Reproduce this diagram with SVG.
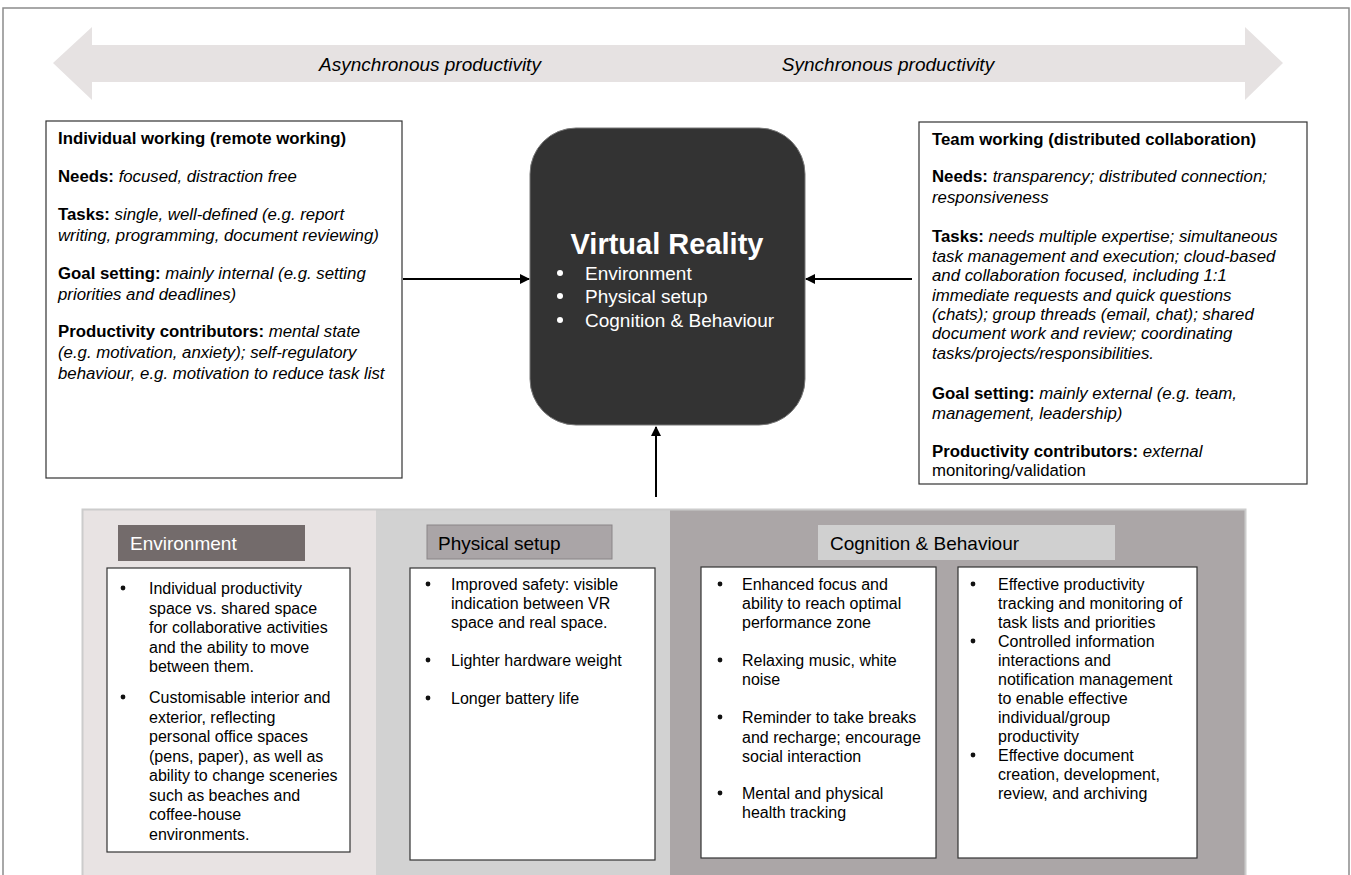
<svg xmlns="http://www.w3.org/2000/svg" width="1351" height="875" viewBox="0 0 1351 875">
  <defs>
    <marker id="arrowhead" viewBox="0 0 10 10" refX="9" refY="5" markerWidth="5" markerHeight="5" orient="auto-start-reverse" markerUnits="strokeWidth">
      <path d="M0,0 L10,5 L0,10 Z" fill="#000"/>
    </marker>
    <style>
      text { font-family: "Liberation Sans", Arial, sans-serif; fill: #000; }
      .body { font-size: 16.8px; }
      .b { font-weight: bold; }
      .i { font-style: italic; }
      .small { font-size: 16px; }
      .hdr { font-size: 19px; }
      .card { fill: #fff; stroke: #333; stroke-width: 1.2; }
      .conn { stroke: #000; stroke-width: 2; fill: none; marker-end: url(#arrowhead); }
    </style>
  </defs>

  <rect x="0" y="0" width="1351" height="875" fill="#fff"/>
  <!-- outer frame -->
  <path d="M3,875 L3,8 L1349,8 L1349,875" fill="none" stroke="#8c8c8c" stroke-width="1.5"/>

  <!-- productivity spectrum double arrow -->
  <g id="spectrum">
    <polygon points="53,63 92,27 92,45 1245,45 1245,27 1283,63 1245,100 1245,82 92,82 92,100" fill="#e6e2e2"/>
    <text x="430" y="71" text-anchor="middle" class="i" font-size="19">Asynchronous productivity</text>
    <text x="888" y="71" text-anchor="middle" class="i" font-size="19">Synchronous productivity</text>
  </g>

  <!-- individual working -->
  <g id="individual">
    <rect x="46" y="121" width="356" height="357" class="card"/>
    <text class="body">
      <tspan x="58" y="144" class="b">Individual working (remote working)</tspan>
      <tspan x="58" y="182"><tspan class="b">Needs: </tspan><tspan class="i">focused, distraction free</tspan></tspan>
      <tspan x="58" y="220"><tspan class="b">Tasks: </tspan><tspan class="i">single, well-defined (e.g. report</tspan></tspan>
      <tspan x="58" y="241" class="i">writing, programming, document reviewing)</tspan>
      <tspan x="58" y="279"><tspan class="b">Goal setting: </tspan><tspan class="i">mainly internal (e.g. setting</tspan></tspan>
      <tspan x="58" y="300" class="i">priorities and deadlines)</tspan>
      <tspan x="58" y="337"><tspan class="b">Productivity contributors: </tspan><tspan class="i">mental state</tspan></tspan>
      <tspan x="58" y="358" class="i">(e.g. motivation, anxiety); self-regulatory</tspan>
      <tspan x="58" y="379" class="i">behaviour, e.g. motivation to reduce task list</tspan>
    </text>
  </g>

  <!-- central VR node -->
  <g id="virtual-reality">
    <rect x="530" y="128" width="275" height="297" rx="46" ry="46" fill="#333" stroke="#777" stroke-width="1"/>
    <text x="667" y="254" text-anchor="middle" font-weight="bold" font-size="29" style="fill:#fff">Virtual Reality</text>
    <circle cx="560" cy="273" r="3" fill="#fff"/>
    <circle cx="560" cy="296" r="3" fill="#fff"/>
    <circle cx="560" cy="320" r="3" fill="#fff"/>
    <text font-size="19" style="fill:#fff">
      <tspan x="585" y="280">Environment</tspan>
      <tspan x="585" y="303">Physical setup</tspan>
      <tspan x="585" y="327">Cognition &amp; Behaviour</tspan>
    </text>
  </g>

  <!-- team working -->
  <g id="team">
    <rect x="919" y="122" width="388" height="362" class="card"/>
    <text class="body">
      <tspan x="932" y="145" class="b">Team working (distributed collaboration)</tspan>
      <tspan x="932" y="182"><tspan class="b">Needs: </tspan><tspan class="i">transparency; distributed connection;</tspan></tspan>
      <tspan x="932" y="203" class="i">responsiveness</tspan>
      <tspan x="932" y="242"><tspan class="b">Tasks: </tspan><tspan class="i">needs multiple expertise; simultaneous</tspan></tspan>
      <tspan x="932" y="262" class="i">task management and execution; cloud-based</tspan>
      <tspan x="932" y="281" class="i">and collaboration focused, including 1:1</tspan>
      <tspan x="932" y="301" class="i">immediate requests and quick questions</tspan>
      <tspan x="932" y="320" class="i">(chats); group threads (email, chat); shared</tspan>
      <tspan x="932" y="339" class="i">document work and review; coordinating</tspan>
      <tspan x="932" y="359" class="i">tasks/projects/responsibilities.</tspan>
      <tspan x="932" y="399"><tspan class="b">Goal setting: </tspan><tspan class="i">mainly external (e.g. team,</tspan></tspan>
      <tspan x="932" y="419" class="i">management, leadership)</tspan>
      <tspan x="932" y="457"><tspan class="b">Productivity contributors: </tspan><tspan class="i">external</tspan></tspan>
      <tspan x="932" y="476">monitoring/validation</tspan>
    </text>
  </g>

  <!-- connectors into the VR node -->
  <g id="connectors">
    <line x1="403" y1="279" x2="529" y2="279" class="conn"/>
    <line x1="912" y1="279" x2="806" y2="279" class="conn"/>
    <line x1="656" y1="497" x2="656" y2="427" class="conn"/>
  </g>

  <!-- design considerations panel -->
  <g id="panel">
    <rect x="82" y="509" width="294" height="366" fill="#e8e3e3"/>
    <rect x="376" y="509" width="294" height="366" fill="#d2d2d2"/>
    <rect x="670" y="509" width="576" height="366" fill="#aba6a7"/>
    <path d="M82.5,876 L82.5,509.5 L1245.5,509.5 L1245.5,876" fill="none" stroke="#cccccc" stroke-width="2"/>
  </g>

  <g id="environment">
    <rect x="118" y="525" width="187" height="36" fill="#736b6b"/>
    <text x="130" y="550" class="hdr" style="fill:#fff">Environment</text>
    <rect x="107" y="568" width="243" height="284" class="card"/>
    <circle cx="123" cy="588" r="2.4" fill="#111"/>
    <circle cx="123" cy="697" r="2.4" fill="#111"/>
    <text class="small">
      <tspan x="149" y="594">Individual productivity</tspan>
      <tspan x="149" y="614">space vs. shared space</tspan>
      <tspan x="149" y="633">for collaborative activities</tspan>
      <tspan x="149" y="653">and the ability to move</tspan>
      <tspan x="149" y="672">between them.</tspan>
      <tspan x="149" y="703">Customisable interior and</tspan>
      <tspan x="149" y="723">exterior, reflecting</tspan>
      <tspan x="149" y="742">personal office spaces</tspan>
      <tspan x="149" y="762">(pens, paper), as well as</tspan>
      <tspan x="149" y="781">ability to change sceneries</tspan>
      <tspan x="149" y="801">such as beaches and</tspan>
      <tspan x="149" y="820">coffee-house</tspan>
      <tspan x="149" y="840">environments.</tspan>
    </text>
  </g>

  <g id="physical-setup">
    <rect x="427" y="525" width="185" height="34" fill="#aaa5a7" stroke="#8a8587" stroke-width="1"/>
    <text x="438" y="550" class="hdr">Physical setup</text>
    <rect x="410" y="568" width="245" height="292" class="card"/>
    <circle cx="428" cy="584" r="2.4" fill="#111"/>
    <circle cx="428" cy="660" r="2.4" fill="#111"/>
    <circle cx="428" cy="698" r="2.4" fill="#111"/>
    <text class="small">
      <tspan x="451" y="590">Improved safety: visible</tspan>
      <tspan x="451" y="609">indication between VR</tspan>
      <tspan x="451" y="628">space and real space.</tspan>
      <tspan x="451" y="666">Lighter hardware weight</tspan>
      <tspan x="451" y="704">Longer battery life</tspan>
    </text>
  </g>

  <g id="cognition-behaviour">
    <rect x="818" y="525" width="297" height="35" fill="#d0d0d0"/>
    <text x="830" y="550" class="hdr">Cognition &amp; Behaviour</text>

    <rect x="701" y="567" width="235" height="291" class="card"/>
    <circle cx="720" cy="584" r="2.4" fill="#111"/>
    <circle cx="720" cy="660" r="2.4" fill="#111"/>
    <circle cx="720" cy="717" r="2.4" fill="#111"/>
    <circle cx="720" cy="793" r="2.4" fill="#111"/>
    <text class="small">
      <tspan x="742" y="590">Enhanced focus and</tspan>
      <tspan x="742" y="609">ability to reach optimal</tspan>
      <tspan x="742" y="628">performance zone</tspan>
      <tspan x="742" y="666">Relaxing music, white</tspan>
      <tspan x="742" y="685">noise</tspan>
      <tspan x="742" y="723">Reminder to take breaks</tspan>
      <tspan x="742" y="743">and recharge; encourage</tspan>
      <tspan x="742" y="762">social interaction</tspan>
      <tspan x="742" y="799">Mental and physical</tspan>
      <tspan x="742" y="818">health tracking</tspan>
    </text>

    <rect x="958" y="567" width="239" height="291" class="card"/>
    <circle cx="973" cy="584" r="2.4" fill="#111"/>
    <circle cx="973" cy="641" r="2.4" fill="#111"/>
    <circle cx="973" cy="755" r="2.4" fill="#111"/>
    <text class="small">
      <tspan x="998" y="590">Effective productivity</tspan>
      <tspan x="998" y="609">tracking and monitoring of</tspan>
      <tspan x="998" y="628">task lists and priorities</tspan>
      <tspan x="998" y="647">Controlled information</tspan>
      <tspan x="998" y="666">interactions and</tspan>
      <tspan x="998" y="685">notification management</tspan>
      <tspan x="998" y="704">to enable effective</tspan>
      <tspan x="998" y="723">individual/group</tspan>
      <tspan x="998" y="742">productivity</tspan>
      <tspan x="998" y="761">Effective document</tspan>
      <tspan x="998" y="780">creation, development,</tspan>
      <tspan x="998" y="799">review, and archiving</tspan>
    </text>
  </g>
</svg>
